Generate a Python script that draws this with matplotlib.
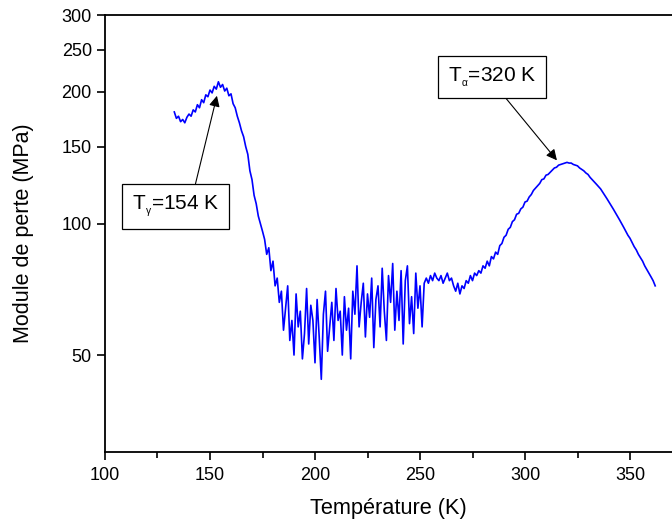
import numpy as np
import matplotlib
matplotlib.use("Agg")
import matplotlib.pyplot as plt
from matplotlib.ticker import FixedLocator, FixedFormatter, MultipleLocator, NullLocator

plt.rcParams['font.family'] = ['Liberation Sans', 'DejaVu Sans']
plt.rcParams['mathtext.fontset'] = 'custom'
plt.rcParams['mathtext.rm'] = 'Liberation Sans'
plt.rcParams['mathtext.it'] = 'Liberation Sans:italic'

# Temperature grid (K), 1 K sampling from 133 K to 362 K
T_start, T_end = 133, 362

# Loss modulus (MPa), one value per kelvin
modulus_peak_gamma = [  # 133..181 K
    180, 174, 176, 171, 173, 170, 175, 178, 176, 182,
    180, 187, 184, 192, 189, 197, 195, 202, 199, 206,
    203, 211, 205, 208, 201, 204, 196, 198, 188, 184,
    176, 170, 163, 158, 150, 144, 132, 126, 116, 111,
    104, 100, 96, 92, 85, 88, 78, 82, 72,
]
modulus_noisy = [  # 182..252 K
    75, 66, 70, 57, 64, 72, 54, 60, 50, 69,
    58, 63, 49, 56, 71, 53, 65, 60, 48, 67,
    55, 44, 62, 70, 51, 58, 66, 54, 71, 60,
    63, 50, 68, 57, 64, 49, 70, 62, 80, 58,
    66, 73, 55, 69, 61, 75, 52, 67, 72, 58,
    79, 63, 54, 76, 66, 81, 57, 70, 60, 78,
    53, 74, 80, 59, 68, 56, 77, 64, 72, 58,
    73,
]
modulus_plateau = [  # 253..280 K
    75, 73, 76, 74, 77, 75, 74, 76, 73, 75,
    77, 74, 75, 72, 70, 73, 69, 72, 71, 74,
    73, 76, 74, 77, 76, 78, 77, 80,
]
modulus_peak_alpha = [  # 281..362 K
    79, 82, 80, 84, 83, 86, 85, 89, 90, 93,
    94, 97, 98, 101, 102, 105, 105.5, 108, 109, 112,
    112.5, 115, 116.5, 119, 120.5, 122, 123.5, 126, 126.5, 129,
    129.5, 131, 132.5, 134, 134.5, 136, 136.5, 137, 137.5, 138,
    137.5, 137.5, 136.5, 136, 135.5, 134, 133, 132, 130.5, 129.5,
    127.5, 126, 124.5, 123, 121.5, 120, 118, 116, 114, 112,
    110, 108, 106, 104, 102, 100, 98, 96, 94, 92.5,
    90.5, 88.5, 87, 85, 83.5, 82, 80, 78.5, 77, 75.5,
    74, 72,
]

modulus = modulus_peak_gamma + modulus_noisy + modulus_plateau + modulus_peak_alpha
temperature = np.arange(T_start, T_end + 1)

x_ticks = [100, 150, 200, 250, 300, 350]
y_ticks = [50, 100, 150, 200, 250, 300]

fig = plt.figure(figsize=(6.72, 5.2), dpi=100)
ax = fig.add_axes([105/672, 68/520, 1 - 105/672, (452 - 15)/520])

ax.plot(temperature, modulus, color='#0000FF', lw=1.2)

ax.set_yscale('log')
ax.set_xlim(100, 370)
ax.set_ylim(30, 300)

ax.xaxis.set_major_locator(FixedLocator(x_ticks))
ax.xaxis.set_minor_locator(MultipleLocator(25))
ax.yaxis.set_major_locator(FixedLocator(y_ticks))
ax.yaxis.set_major_formatter(FixedFormatter([str(v) for v in y_ticks]))
ax.yaxis.set_minor_locator(NullLocator())

ax.tick_params(axis='both', which='major', direction='out', length=6, width=1.2, labelsize=13, colors='black')
ax.tick_params(axis='x', which='minor', direction='out', length=4, width=1.2)
ax.tick_params(axis='x', which='major', pad=5)

for s in ['left', 'bottom', 'top']:
    ax.spines[s].set_linewidth(1.3)
ax.spines['right'].set_visible(False)

ax.set_xlabel('Température (K)', fontsize=15.7, labelpad=10)
ax.set_ylabel('Module de perte (MPa)', fontsize=15.5, labelpad=20)

box = dict(boxstyle='square,pad=0.45', fc='white', ec='black', lw=0.9)
ax.annotate(r'T$_{_{\mathregular{\gamma}}}$=154 K', xy=(153.3, 196), xytext=(133.6, 109.4),
            ha='center', va='center', fontsize=15, bbox=box,
            arrowprops=dict(arrowstyle='-|>', color='black', lw=0.8, mutation_scale=16,
                            relpos=(0.70, 1.0), shrinkA=0, shrinkB=0))
ax.annotate(r'T$_{_{\mathregular{\alpha}}}$=320 K', xy=(315.2, 139.5), xytext=(284.3, 216.3),
            ha='center', va='center', fontsize=15, bbox=box,
            arrowprops=dict(arrowstyle='-|>', color='black', lw=0.8, mutation_scale=16,
                            relpos=(0.57, 0.0), shrinkA=0, shrinkB=0))

fig.savefig('out.png', dpi=100)
